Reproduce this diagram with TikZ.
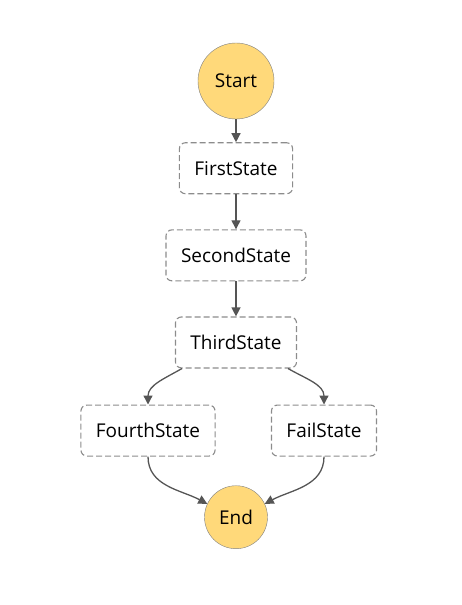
\documentclass[tikz,border=0pt]{standalone}
\usepackage{xcolor}
\usepackage{fontspec}
\setmainfont{Open Sans}
\usetikzlibrary{positioning,shapes,arrows.meta}

\definecolor{stategold}{RGB}{255,217,122}
\definecolor{flowgrey}{RGB}{85,85,85}
\definecolor{boxgrey}{RGB}{140,140,140}

\begin{document}
\begin{tikzpicture}[x=1pt, y=1pt, >={Triangle[length=9pt,width=9pt]},
        font=\fontsize{19}{22}\selectfont,
        terminal/.style={draw=gray, circle, fill=stategold, inner sep=0pt},
        statebox/.style={draw=boxgrey, line width=1.1pt, dash pattern=on 6pt off 3pt, rounded corners=6pt, minimum height=51pt, inner xsep=15pt},
        flow/.style={->, draw=flowgrey, line width=1.3pt}]
        \useasboundingbox (0,0) rectangle (461,-605);

        \node [terminal, minimum size=76pt] (start) at (236,-81) {Start};
        \node [statebox, below=23pt of start] (first) {FirstState};
        \node [statebox, below=35pt of first] (second) {SecondState};
        \node [statebox, below=35pt of second] (third) {ThirdState};
        \node [statebox, below=36pt of third, xshift=-88pt] (fourth) {FourthState};
        \node [statebox, below=36pt of third, xshift=88pt] (fail) {FailState};
        \node [terminal, minimum size=63pt, below=117pt of third] (end) {End};

        \draw[flow] (start) -- (first);
        \draw[flow] (first) -- (second);
        \draw[flow] (second) -- (third);
        \draw[flow] ([xshift=-54pt]third.south) to[out=-150, in=90] (fourth.north);
        \draw[flow] ([xshift=52pt]third.south) to[out=-30, in=90] (fail.north);
        \draw[flow] (fourth.south) to[out=-90, in=152] (end.155);
        \draw[flow] (fail.south) to[out=-90, in=28] (end.25);
    \end{tikzpicture}
\end{document}
